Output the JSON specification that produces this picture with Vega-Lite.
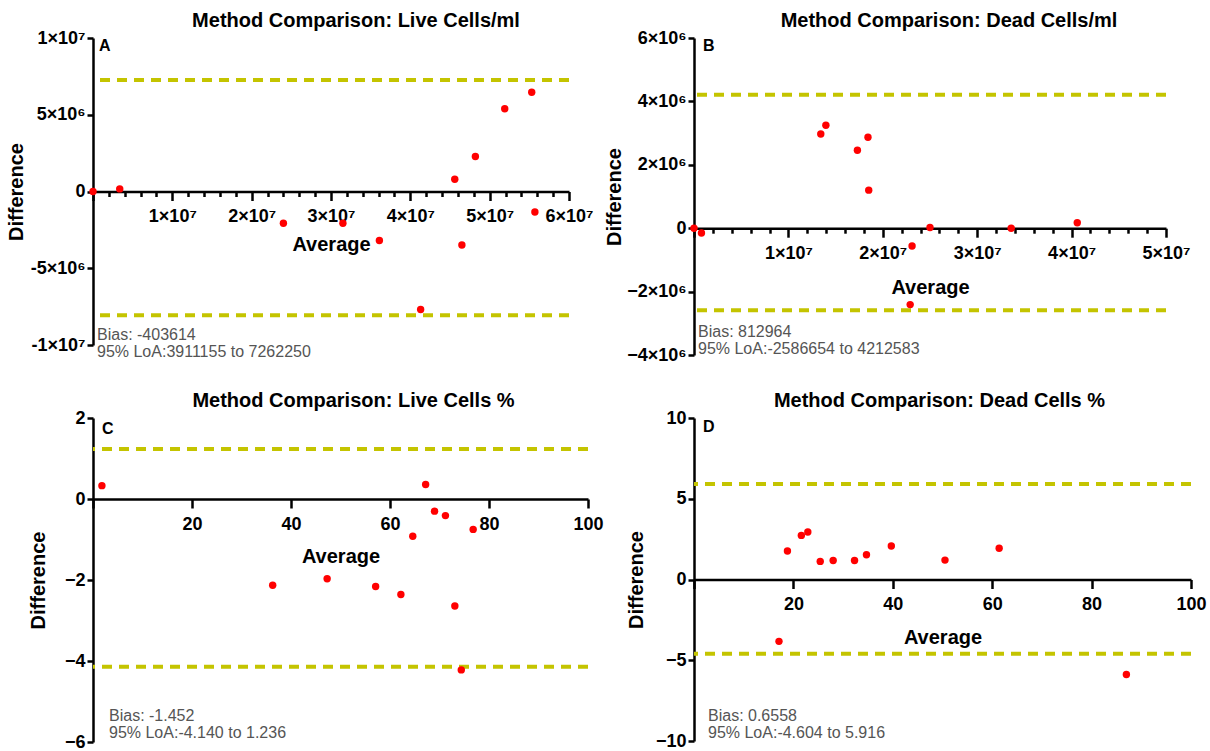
{
  "$schema": "https://vega.github.io/schema/vega-lite/v6.json",
  "background": "white",
  "padding": {"left": 6, "top": 11, "right": 5, "bottom": 0},
  "columns": 2,
  "spacing": {"row": 27, "column": 0},
  "config": {
    "view": {"stroke": null},
    "font": "Liberation Sans",
    "axis": {
      "domainColor": "black", "domainWidth": 2.5, "tickColor": "black", "tickWidth": 2.5,
      "labelColor": "black", "labelFont": "Liberation Sans", "labelFontWeight": "bold", "labelFontSize": 18,
      "titleFont": "Liberation Sans", "titleFontWeight": "bold", "titleFontSize": 20, "titleColor": "black",
      "grid": false, "labelOverlap": false, "labelFlush": false, "labelPadding": 2, "tickCount": 100
    },
    "axisX": {"labelPadding": 7},
    "axisY": {"tickSize": 6},
    "title": {"font": "Liberation Sans", "fontSize": 20, "fontWeight": "bold", "color": "black", "anchor": "middle", "frame": "group", "offset": -2}
  },
  "datasets": {
    "A_pts": [
      {"avg": 0, "diff": 0}, {"avg": 3370000, "diff": 170000}, {"avg": 24000000, "diff": -2070000},
      {"avg": 31500000, "diff": -2070000}, {"avg": 36100000, "diff": -3190000}, {"avg": 41300000, "diff": -7690000},
      {"avg": 45600000, "diff": 800000}, {"avg": 46500000, "diff": -3490000}, {"avg": 48200000, "diff": 2280000},
      {"avg": 51900000, "diff": 5390000}, {"avg": 55300000, "diff": 6470000}, {"avg": 55700000, "diff": -1340000}
    ],
    "A_lim": [{"limit": 7262250}, {"limit": -8069478}],
    "B_pts": [
      {"avg": 0, "diff": 0}, {"avg": 790000, "diff": -150000}, {"avg": 13430000, "diff": 2970000},
      {"avg": 13970000, "diff": 3250000}, {"avg": 17310000, "diff": 2460000}, {"avg": 18430000, "diff": 2870000},
      {"avg": 18510000, "diff": 1200000}, {"avg": 23100000, "diff": -560000}, {"avg": 22900000, "diff": -2410000},
      {"avg": 25000000, "diff": 20000}, {"avg": 33600000, "diff": 0}, {"avg": 40600000, "diff": 170000}
    ],
    "B_lim": [{"limit": 4212583}, {"limit": -2586654}],
    "C_pts": [
      {"avg": 1.8, "diff": 0.33}, {"avg": 36.3, "diff": -2.13}, {"avg": 47.3, "diff": -1.97},
      {"avg": 57.1, "diff": -2.16}, {"avg": 62.2, "diff": -2.36}, {"avg": 64.6, "diff": -0.92},
      {"avg": 67.2, "diff": 0.36}, {"avg": 69.0, "diff": -0.30}, {"avg": 71.2, "diff": -0.41},
      {"avg": 73.1, "diff": -2.64}, {"avg": 74.4, "diff": -4.22}, {"avg": 76.8, "diff": -0.75}
    ],
    "C_lim": [{"limit": 1.236}, {"limit": -4.140}],
    "D_pts": [
      {"avg": 17.1, "diff": -3.83}, {"avg": 18.8, "diff": 1.76}, {"avg": 21.6, "diff": 2.73},
      {"avg": 22.9, "diff": 2.94}, {"avg": 25.4, "diff": 1.12}, {"avg": 28.0, "diff": 1.18},
      {"avg": 32.3, "diff": 1.18}, {"avg": 34.7, "diff": 1.53}, {"avg": 39.7, "diff": 2.07},
      {"avg": 50.5, "diff": 1.20}, {"avg": 61.4, "diff": 1.93}, {"avg": 87.0, "diff": -5.88}
    ],
    "D_lim": [{"limit": 5.916}, {"limit": -4.604}]
  },
  "concat": [
    {
      "width": 476, "height": 307,
      "title": {"text": "Method Comparison: Live Cells/ml", "dx": 25},
      "layer": [
        {
          "data": {"name": "A_lim"},
          "mark": {"type": "rule", "color": "#c4c400", "strokeWidth": 4, "strokeDash": [10, 7]},
          "encoding": {"y": {"field": "limit", "type": "quantitative", "title": "Difference"}}
        },
        {
          "data": {"name": "A_pts"},
          "mark": {"type": "circle", "color": "#ff0000", "size": 55, "opacity": 1},
          "encoding": {
            "x": {"field": "avg", "type": "quantitative", "scale": {"domain": [0, 60000000], "nice": false, "zero": false},
              "axis": {"title": "Average", "offset": -153.5, "titlePadding": 9,
                "values": [0, 2000000, 4000000, 6000000, 8000000, 10000000, 12000000, 14000000, 16000000, 18000000, 20000000, 22000000, 24000000, 26000000, 28000000, 30000000, 32000000, 34000000, 36000000, 38000000, 40000000, 42000000, 44000000, 46000000, 48000000, 50000000, 52000000, 54000000, 56000000, 58000000, 60000000],
                "tickSize": {"condition": {"test": "datum.value % 10000000 === 0", "value": 9}, "value": 5},
                "labelExpr": "datum.value % 10000000 === 0 && datum.value > 0 ? format(datum.value / 10000000, 'd') + '×10⁷' : ''"}},
            "y": {"field": "diff", "type": "quantitative", "scale": {"domain": [-10000000, 10000000], "nice": false},
              "axis": {"title": "Difference", "titleX": -67, "values": [-10000000, -5000000, 0, 5000000, 10000000],
                "labelExpr": "datum.value == 10000000 ? '1×10⁷' : datum.value == 5000000 ? '5×10⁶' : datum.value == 0 ? '0' : datum.value == -5000000 ? '-5×10⁶' : '-1×10⁷'"}}
          }
        },
        {
          "data": {"values": [{}]},
          "mark": {"type": "text", "align": "left", "baseline": "top", "fontSize": 16, "fontWeight": "bold", "color": "black", "dx": 6, "dy": 0},
          "encoding": {"x": {"datum": 0}, "y": {"datum": 10000000}, "text": {"value": "A"}}
        },
        {
          "data": {"values": [{}]},
          "mark": {"type": "text", "align": "left", "baseline": "bottom", "fontSize": 16, "color": "#555555", "lineHeight": 17, "dx": 4, "dy": -2},
          "encoding": {"x": {"datum": 0}, "y": {"datum": -10000000}, "text": {"value": ["Bias: -403614", "95% LoA:3911155 to 7262250"]}}
        }
      ]
    },
    {
      "width": 472, "height": 317,
      "title": {"text": "Method Comparison: Dead Cells/ml", "dx": 19},
      "layer": [
        {
          "data": {"name": "B_lim"},
          "mark": {"type": "rule", "color": "#c4c400", "strokeWidth": 4, "strokeDash": [10, 7]},
          "encoding": {"y": {"field": "limit", "type": "quantitative", "title": "Difference"}}
        },
        {
          "data": {"name": "B_pts"},
          "mark": {"type": "circle", "color": "#ff0000", "size": 55, "opacity": 1},
          "encoding": {
            "x": {"field": "avg", "type": "quantitative", "scale": {"domain": [0, 50000000], "nice": false, "zero": false},
              "axis": {"title": "Average", "offset": -126.8, "titlePadding": 15,
                "values": [0, 2000000, 4000000, 6000000, 8000000, 10000000, 12000000, 14000000, 16000000, 18000000, 20000000, 22000000, 24000000, 26000000, 28000000, 30000000, 32000000, 34000000, 36000000, 38000000, 40000000, 42000000, 44000000, 46000000, 48000000, 50000000],
                "tickSize": {"condition": {"test": "datum.value % 10000000 === 0", "value": 9}, "value": 5},
                "labelExpr": "datum.value % 10000000 === 0 && datum.value > 0 ? format(datum.value / 10000000, 'd') + '×10⁷' : ''"}},
            "y": {"field": "diff", "type": "quantitative", "scale": {"domain": [-4000000, 6000000], "nice": false},
              "axis": {"title": "Difference", "titleX": -70, "values": [-4000000, -2000000, 0, 2000000, 4000000, 6000000],
                "labelExpr": "datum.value == 0 ? '0' : format(datum.value / 1000000, 'd') + '×10⁶'"}}
          }
        },
        {
          "data": {"values": [{}]},
          "mark": {"type": "text", "align": "left", "baseline": "top", "fontSize": 16, "fontWeight": "bold", "color": "black", "dx": 9, "dy": 0},
          "encoding": {"x": {"datum": 0}, "y": {"datum": 6000000}, "text": {"value": "B"}}
        },
        {
          "data": {"values": [{}]},
          "mark": {"type": "text", "align": "left", "baseline": "bottom", "fontSize": 16, "color": "#555555", "lineHeight": 17, "dx": 4, "dy": -15},
          "encoding": {"x": {"datum": 0}, "y": {"datum": -4000000}, "text": {"value": ["Bias: 812964", "95% LoA:-2586654 to 4212583"]}}
        }
      ]
    },
    {
      "width": 495, "height": 324,
      "title": {"text": "Method Comparison: Live Cells %", "dx": 13},
      "layer": [
        {
          "data": {"name": "C_lim"},
          "mark": {"type": "rule", "color": "#c4c400", "strokeWidth": 4, "strokeDash": [10, 7]},
          "encoding": {"y": {"field": "limit", "type": "quantitative", "title": "Difference"}}
        },
        {
          "data": {"name": "C_pts"},
          "mark": {"type": "circle", "color": "#ff0000", "size": 55, "opacity": 1},
          "encoding": {
            "x": {"field": "avg", "type": "quantitative", "scale": {"domain": [0, 100], "nice": false, "zero": false},
              "axis": {"title": "Average", "offset": -243, "titlePadding": 13, "tickSize": 9, "format": "d",
                "values": [0, 20, 40, 60, 80, 100],
                "labelExpr": "datum.value == 0 ? '' : datum.label"}},
            "y": {"field": "diff", "type": "quantitative", "scale": {"domain": [-6, 2], "nice": false},
              "axis": {"title": "Difference", "titleX": -45, "format": "d", "values": [-6, -4, -2, 0, 2]}}
          }
        },
        {
          "data": {"values": [{}]},
          "mark": {"type": "text", "align": "left", "baseline": "top", "fontSize": 16, "fontWeight": "bold", "color": "black", "dx": 9, "dy": 3},
          "encoding": {"x": {"datum": 0}, "y": {"datum": 2}, "text": {"value": "C"}}
        },
        {
          "data": {"values": [{}]},
          "mark": {"type": "text", "align": "left", "baseline": "bottom", "fontSize": 16, "color": "#555555", "lineHeight": 17, "dx": 16, "dy": -18},
          "encoding": {"x": {"datum": 0}, "y": {"datum": -6}, "text": {"value": ["Bias: -1.452", "95% LoA:-4.140 to 1.236"]}}
        }
      ]
    },
    {
      "width": 497, "height": 323,
      "title": {"text": "Method Comparison: Dead Cells %", "dx": -3},
      "layer": [
        {
          "data": {"name": "D_lim"},
          "mark": {"type": "rule", "color": "#c4c400", "strokeWidth": 4, "strokeDash": [10, 7]},
          "encoding": {"y": {"field": "limit", "type": "quantitative", "title": "Difference"}}
        },
        {
          "data": {"name": "D_pts"},
          "mark": {"type": "circle", "color": "#ff0000", "size": 55, "opacity": 1},
          "encoding": {
            "x": {"field": "avg", "type": "quantitative", "scale": {"domain": [0, 100], "nice": false, "zero": false},
              "axis": {"title": "Average", "offset": -161.5, "titlePadding": 14, "tickSize": 9, "format": "d",
                "values": [0, 20, 40, 60, 80, 100],
                "labelExpr": "datum.value == 0 ? '' : datum.label"}},
            "y": {"field": "diff", "type": "quantitative", "scale": {"domain": [-10, 10], "nice": false},
              "axis": {"title": "Difference", "titleX": -48, "format": "d", "values": [-10, -5, 0, 5, 10]}}
          }
        },
        {
          "data": {"values": [{}]},
          "mark": {"type": "text", "align": "left", "baseline": "top", "fontSize": 16, "fontWeight": "bold", "color": "black", "dx": 9, "dy": 1},
          "encoding": {"x": {"datum": 0}, "y": {"datum": 10}, "text": {"value": "D"}}
        },
        {
          "data": {"values": [{}]},
          "mark": {"type": "text", "align": "left", "baseline": "bottom", "fontSize": 16, "color": "#555555", "lineHeight": 17, "dx": 14, "dy": -17},
          "encoding": {"x": {"datum": 0}, "y": {"datum": -10}, "text": {"value": ["Bias: 0.6558", "95% LoA:-4.604 to 5.916"]}}
        }
      ]
    }
  ]
}
